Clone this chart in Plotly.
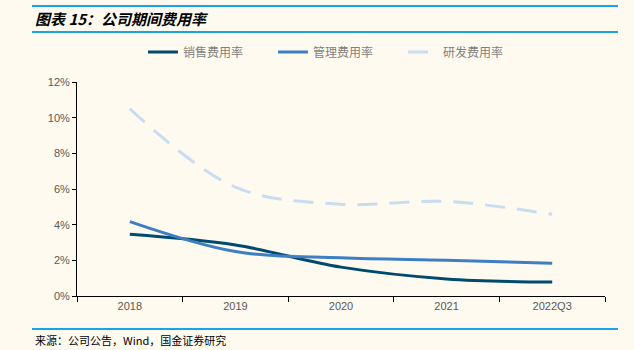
import plotly.graph_objects as go

categories = ["2018", "2019", "2020", "2021", "2022Q3"]
sales = [3.46, 2.86, 1.62, 0.96, 0.78]
admin = [4.17, 2.49, 2.14, 2.0, 1.84]
rnd = [10.5, 6.1, 5.15, 5.3, 4.58]
names = ["销售费用率", "管理费用率", "研发费用率"]
yticks = [0, 2, 4, 6, 8, 10, 12]

W, H = 634, 350
L, R, T, B = 77, 605, 82, 296

def px(x):
    return (x - L) / (R - L)

def py(y):
    return (B - y) / (B - T)

fig = go.Figure()
fig.add_trace(go.Scatter(x=categories, y=sales, name=names[0], mode="lines",
                         line=dict(color="#004a6e", width=3, shape="spline", smoothing=1)))
fig.add_trace(go.Scatter(x=categories, y=admin, name=names[1], mode="lines",
                         line=dict(color="#3d7fc2", width=3, shape="spline", smoothing=1)))
fig.add_trace(go.Scatter(x=categories, y=rnd, name=names[2], mode="lines",
                         line=dict(color="#c8ddf2", width=3, shape="spline", smoothing=1, dash="20px,12px")))

bg = "#fffaf0"
fig.update_layout(
    width=W, height=H,
    margin=dict(l=L, r=W - R, t=T, b=H - B),
    paper_bgcolor=bg, plot_bgcolor=bg,
    font=dict(family="Liberation Sans, Noto Sans CJK SC", size=11, color="#595959"),
    showlegend=True,
    legend=dict(orientation="h", x=px(143), y=py(52), xanchor="left", yanchor="middle",
                font=dict(family="Noto Sans CJK SC", size=12, color="#7f7f7f"),
                entrywidth=85, entrywidthmode="pixels", bgcolor="rgba(0,0,0,0)"),
    xaxis=dict(type="category", range=[-0.5, 4.5], showline=True, linecolor="#000000", linewidth=1,
               ticks="outside", ticklen=5, tickcolor="#000000", tickson="boundaries",
               showgrid=False, zeroline=False, tickfont=dict(size=11, color="#595959")),
    yaxis=dict(range=[0, 12], tickvals=yticks, ticktext=[f"{v}%" for v in yticks],
               showline=True, linecolor="#000000", linewidth=1, ticks="outside", ticklen=4,
               tickcolor="#000000", showgrid=False, zeroline=False,
               tickfont=dict(size=11, color="#595959")),
)

line_color = "#1aa3e8"
for yy in [6, 32, 329]:
    fig.add_shape(type="line", xref="paper", yref="paper", x0=px(32), x1=px(618),
                  y0=py(yy), y1=py(yy), line=dict(color=line_color, width=2))

fig.add_annotation(text="<b><i>图表 15：公司期间费用率</i></b>", xref="paper", yref="paper",
                   x=px(33), y=py(18), xanchor="left", yanchor="middle", showarrow=False,
                   font=dict(family="Noto Sans CJK SC", size=15, color="#000000"))
fig.add_annotation(text="来源：公司公告，Wind，国金证券研究", xref="paper", yref="paper",
                   x=px(33), y=py(340), xanchor="left", yanchor="middle", showarrow=False,
                   font=dict(family="Noto Sans CJK SC", size=11, color="#000000"))

fig.write_html("out.html")
